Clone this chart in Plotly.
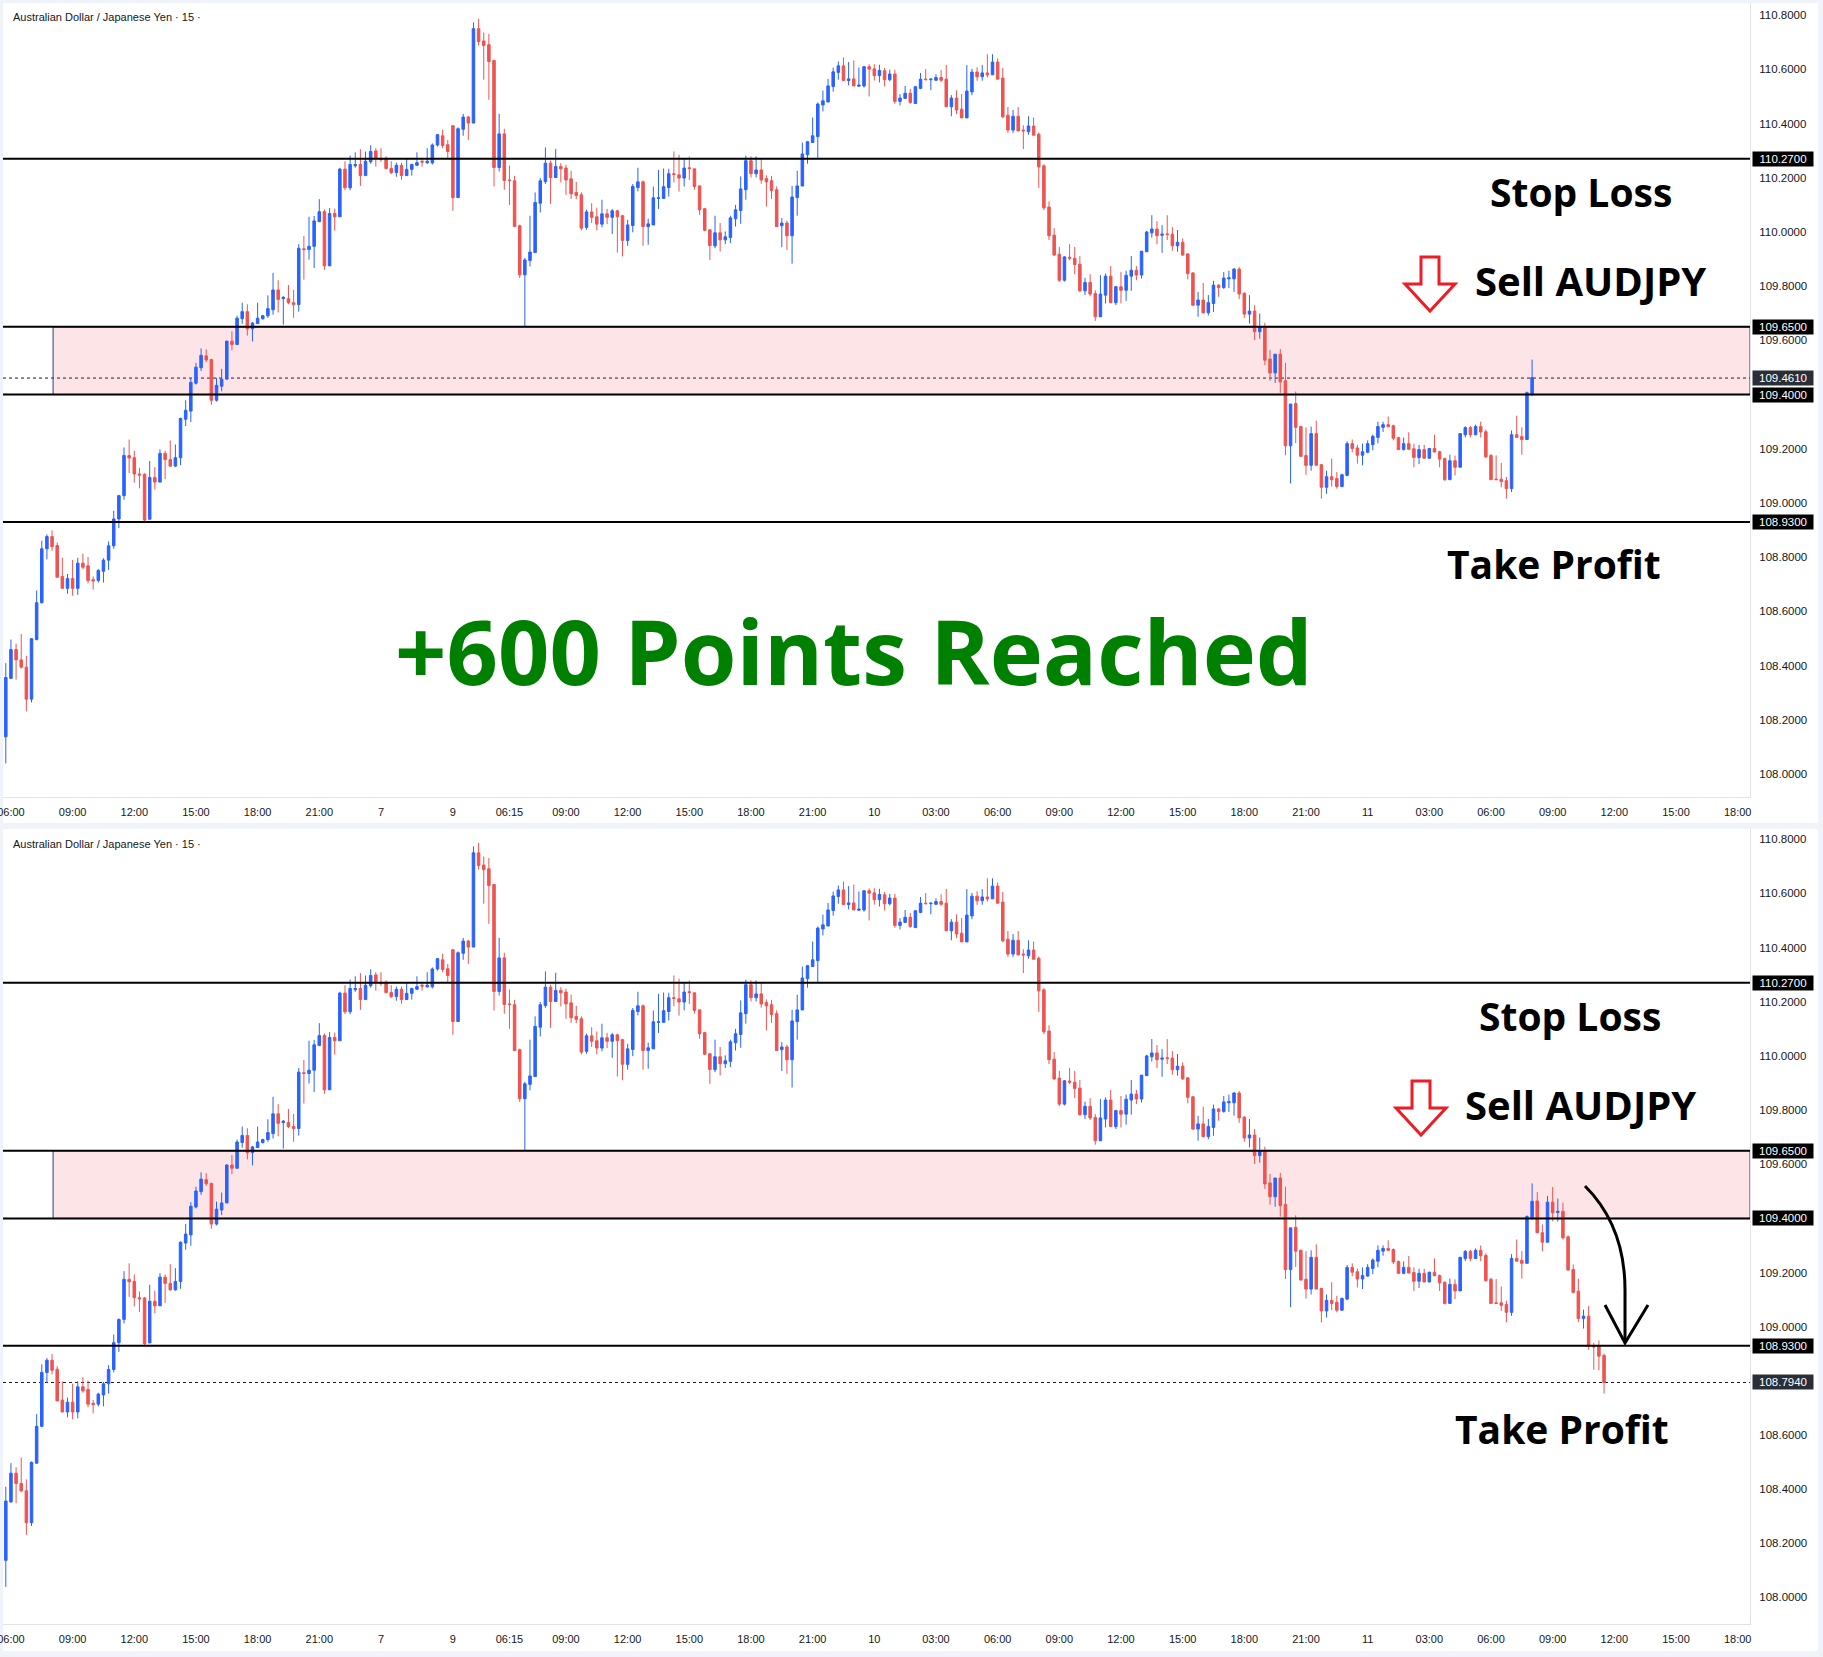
import plotly.graph_objects as go

W, H = 1823, 1657

# ---------------- data (AUDJPY, 15 min candles) ----------------
open_ = [
108.137,108.353,108.459,108.421,108.394,108.276,108.496,108.632,108.831,108.876,
108.843,108.729,108.685,108.721,108.685,108.778,108.768,108.717,108.714,108.748,
108.789,108.842,108.941,109.027,109.175,109.167,109.107,109.106,108.940,109.094,
109.077,109.183,109.160,109.136,109.167,109.309,109.339,109.442,109.499,109.543,
109.529,109.379,109.431,109.457,109.597,109.585,109.680,109.706,109.643,109.662,
109.680,109.691,109.713,109.786,109.754,109.754,109.739,109.732,109.938,109.935,
109.947,110.038,110.075,109.875,110.068,110.056,110.232,110.163,110.244,110.249,
110.208,110.259,110.299,110.272,110.272,110.234,110.219,110.246,110.208,110.231,
110.246,110.261,110.255,110.255,110.321,110.355,110.322,110.392,110.127,110.379,
110.424,110.402,110.750,110.705,110.691,110.633,110.238,110.362,110.192,110.189,
110.023,109.842,109.895,109.924,110.106,110.186,110.254,110.201,110.242,110.236,
110.196,110.146,110.137,110.017,110.074,110.056,110.029,110.067,110.054,110.078,
110.060,109.969,110.024,110.164,110.185,110.020,110.026,110.124,110.124,110.164,
110.215,110.211,110.199,110.237,110.233,110.170,110.086,110.008,109.949,109.997,
109.971,109.980,110.049,110.079,110.156,110.263,110.215,110.229,110.197,110.189,
110.156,110.023,110.033,109.986,110.127,110.170,110.285,110.330,110.352,110.469,
110.480,110.537,110.589,110.613,110.559,110.565,110.538,110.539,110.610,110.602,
110.577,110.595,110.562,110.583,110.482,110.493,110.512,110.474,110.530,110.564,
110.562,110.560,110.570,110.564,110.462,110.494,110.453,110.421,110.517,110.590,
110.573,110.587,110.580,110.627,110.568,110.431,110.376,110.427,110.376,110.370,
110.391,110.361,110.244,110.092,109.988,109.918,109.822,109.907,109.903,109.881,
109.783,109.814,109.773,109.687,109.767,109.837,109.739,109.798,109.785,109.837,
109.859,109.841,109.927,109.997,110.011,109.988,109.993,109.992,109.949,109.962,
109.919,109.849,109.730,109.749,109.702,109.736,109.804,109.795,109.827,109.827,
109.863,109.774,109.697,109.708,109.632,109.650,109.531,109.480,109.549,109.451,
109.211,109.367,109.282,109.175,109.139,109.256,109.141,109.058,109.097,109.090,
109.061,109.102,109.219,109.203,109.176,109.187,109.215,109.242,109.279,109.289,
109.285,109.241,109.197,109.219,109.200,109.168,109.197,109.165,109.201,109.189,
109.164,109.086,109.156,109.132,109.252,109.278,109.252,109.282,109.263,109.175,
109.088,109.088,109.082,109.053,109.252,109.245,109.234,109.402,109.464,109.347,
109.312,109.460,109.422,109.426,109.332,109.211,109.131,109.030,109.039,108.930,
108.928,108.894]
high = [
108.409,108.496,108.481,108.517,108.436,108.502,108.677,108.861,108.884,108.899,
108.854,108.798,108.738,108.790,108.798,108.813,108.801,108.729,108.756,108.796,
108.858,108.971,109.030,109.205,109.234,109.193,109.130,109.110,109.155,109.133,
109.198,109.193,109.231,109.216,109.315,109.379,109.460,109.517,109.570,109.567,
109.532,109.462,109.495,109.600,109.634,109.691,109.739,109.733,109.668,109.739,
109.694,109.766,109.849,109.822,109.763,109.804,109.786,109.955,109.985,110.056,
110.059,110.121,110.083,110.088,110.086,110.237,110.261,110.282,110.294,110.306,
110.297,110.320,110.309,110.309,110.279,110.261,110.256,110.256,110.272,110.252,
110.294,110.267,110.309,110.327,110.362,110.377,110.340,110.395,110.386,110.436,
110.429,110.774,110.787,110.736,110.731,110.635,110.436,110.381,110.245,110.207,
110.027,109.904,110.060,110.146,110.199,110.312,110.263,110.307,110.254,110.248,
110.226,110.185,110.146,110.082,110.106,110.090,110.119,110.085,110.085,110.082,
110.063,110.045,110.177,110.237,110.190,110.049,110.168,110.229,110.234,110.233,
110.297,110.285,110.270,110.279,110.234,110.172,110.089,110.011,110.060,110.033,
110.002,110.060,110.100,110.205,110.282,110.279,110.279,110.270,110.209,110.207,
110.168,110.051,110.041,110.170,110.226,110.330,110.336,110.422,110.478,110.522,
110.565,110.607,110.629,110.644,110.627,110.633,110.607,110.611,110.619,110.619,
110.617,110.605,110.599,110.599,110.509,110.539,110.528,110.538,110.587,110.601,
110.567,110.582,110.597,110.616,110.505,110.523,110.509,110.616,110.602,110.608,
110.616,110.656,110.656,110.641,110.605,110.461,110.450,110.461,110.394,110.427,
110.422,110.367,110.250,110.113,110.014,109.945,109.911,109.955,109.945,109.911,
109.831,109.844,109.785,109.841,109.847,109.874,109.801,109.852,109.857,109.911,
109.874,109.929,110.004,110.062,110.040,110.025,110.062,110.018,110.007,109.976,
109.922,109.852,109.779,109.812,109.767,109.820,109.807,109.852,109.857,109.867,
109.870,109.777,109.767,109.730,109.699,109.665,109.564,109.549,109.568,109.517,
109.365,109.411,109.285,109.279,109.282,109.304,109.144,109.119,109.164,109.114,
109.108,109.228,109.234,109.215,109.219,109.231,109.252,109.300,109.300,109.319,
109.289,109.244,109.241,109.261,109.219,109.214,109.214,109.203,109.252,109.193,
109.167,109.178,109.175,109.258,109.283,109.284,109.289,109.300,109.271,109.181,
109.176,109.148,109.096,109.268,109.322,109.279,109.411,109.529,109.497,109.378,
109.483,109.516,109.473,109.458,109.337,109.230,109.177,109.063,109.076,108.940,
108.949,108.901]
low = [
108.039,108.350,108.348,108.389,108.231,108.264,108.493,108.629,108.792,108.824,
108.726,108.685,108.665,108.658,108.661,108.756,108.703,108.680,108.706,108.706,
108.753,108.831,108.907,109.012,109.110,109.075,109.054,108.929,108.940,109.050,
109.077,109.088,109.133,109.133,109.140,109.284,109.299,109.437,109.487,109.520,
109.362,109.374,109.412,109.457,109.563,109.585,109.661,109.618,109.596,109.661,
109.676,109.683,109.695,109.703,109.658,109.733,109.683,109.706,109.824,109.898,
109.867,110.038,109.860,109.875,110.005,110.056,110.155,110.154,110.237,110.170,
110.208,110.252,110.241,110.259,110.231,110.214,110.204,110.193,110.208,110.208,
110.243,110.241,110.252,110.249,110.315,110.309,110.272,110.078,110.127,110.355,
110.340,110.402,110.688,110.562,110.488,110.168,110.223,110.156,110.100,110.020,
109.830,109.651,109.873,109.924,110.072,110.177,110.104,110.201,110.183,110.137,
110.122,110.121,110.006,110.008,110.033,110.006,110.017,110.029,109.993,109.924,
109.910,109.949,109.999,110.150,109.949,109.953,110.026,110.085,110.122,110.131,
110.183,110.149,110.168,110.192,110.156,110.063,110.003,109.897,109.940,109.928,
109.955,109.959,110.020,110.030,110.119,110.201,110.201,110.178,110.094,110.122,
110.018,109.944,109.934,109.883,110.060,110.168,110.252,110.330,110.272,110.445,
110.478,110.518,110.562,110.559,110.541,110.539,110.537,110.533,110.500,110.559,
110.552,110.537,110.556,110.473,110.467,110.493,110.473,110.472,110.527,110.562,
110.523,110.557,110.554,110.462,110.427,110.435,110.421,110.421,110.505,110.558,
110.558,110.570,110.580,110.564,110.420,110.366,110.366,110.372,110.306,110.359,
110.357,110.163,110.081,109.970,109.912,109.815,109.817,109.896,109.844,109.779,
109.767,109.763,109.672,109.687,109.736,109.739,109.730,109.736,109.746,109.783,
109.822,109.828,109.926,109.979,109.955,109.923,109.970,109.931,109.927,109.912,
109.825,109.727,109.687,109.699,109.692,109.705,109.761,109.790,109.793,109.779,
109.753,109.683,109.662,109.601,109.606,109.509,109.451,109.443,109.406,109.176,
109.072,109.221,109.172,109.104,109.119,109.139,109.016,109.034,109.061,109.053,
109.058,109.098,109.187,109.145,109.139,109.184,109.194,109.220,109.262,109.279,
109.231,109.197,109.194,109.198,109.132,109.143,109.165,109.165,109.187,109.132,
109.082,109.086,109.102,109.132,109.242,109.242,109.250,109.242,109.167,109.086,
109.086,109.058,109.016,109.040,109.242,109.178,109.234,109.394,109.347,109.279,
109.312,109.390,109.388,109.322,109.209,109.123,109.017,108.993,108.915,108.841,
108.839,108.753]
close = [
108.356,108.459,108.421,108.394,108.276,108.499,108.632,108.831,108.876,108.839,
108.726,108.685,108.721,108.685,108.778,108.763,108.714,108.712,108.751,108.789,
108.842,108.941,109.027,109.175,109.166,109.107,109.103,108.937,109.094,109.077,
109.183,109.160,109.136,109.167,109.312,109.342,109.445,109.501,109.545,109.528,
109.379,109.434,109.457,109.597,109.585,109.682,109.706,109.643,109.664,109.682,
109.691,109.717,109.786,109.751,109.759,109.739,109.732,109.940,109.935,109.947,
110.041,110.075,109.875,110.068,110.056,110.232,110.163,110.249,110.249,110.208,
110.261,110.297,110.272,110.267,110.234,110.219,110.246,110.208,110.231,110.249,
110.256,110.258,110.261,110.321,110.359,110.319,110.297,110.127,110.381,110.424,
110.402,110.750,110.703,110.688,110.629,110.238,110.362,110.190,110.190,110.020,
109.842,109.897,109.926,110.109,110.189,110.254,110.201,110.242,110.233,110.192,
110.141,110.135,110.014,110.074,110.054,110.029,110.067,110.054,110.078,110.057,
109.969,110.026,110.168,110.185,110.020,110.030,110.126,110.126,110.167,110.215,
110.212,110.199,110.236,110.234,110.168,110.082,110.006,109.950,109.997,109.971,
109.982,110.052,110.082,110.159,110.263,110.215,110.229,110.192,110.185,110.153,
110.020,110.033,109.986,110.129,110.170,110.288,110.333,110.355,110.472,110.484,
110.539,110.591,110.613,110.559,110.565,110.539,110.542,110.610,110.601,110.577,
110.596,110.562,110.583,110.482,110.494,110.512,110.478,110.536,110.564,110.562,
110.564,110.570,110.560,110.462,110.494,110.450,110.421,110.520,110.590,110.573,
110.587,110.580,110.627,110.564,110.425,110.376,110.427,110.373,110.373,110.391,
110.357,110.240,110.089,109.986,109.915,109.822,109.908,109.903,109.880,109.783,
109.814,109.771,109.687,109.771,109.837,109.739,109.798,109.785,109.840,109.859,
109.841,109.929,110.000,110.011,109.986,109.992,109.991,109.949,109.962,109.915,
109.847,109.730,109.749,109.702,109.739,109.804,109.795,109.830,109.831,109.863,
109.771,109.697,109.708,109.632,109.650,109.527,109.480,109.549,109.447,109.211,
109.365,109.279,109.172,109.139,109.256,109.139,109.058,109.097,109.086,109.061,
109.104,109.219,109.201,109.176,109.189,109.219,109.246,109.282,109.289,109.282,
109.239,109.197,109.219,109.198,109.168,109.197,109.165,109.201,109.188,109.162,
109.086,109.156,109.132,109.256,109.278,109.252,109.282,109.262,109.170,109.086,
109.086,109.079,109.053,109.252,109.242,109.234,109.407,109.463,109.347,109.312,
109.460,109.421,109.426,109.328,109.209,109.127,109.030,109.039,108.928,108.925,
108.891,108.794]

# candles shown in the upper pane (the lower pane shows the later session too)
n_top = 298

# time axis labels (candle index -> label)
tick_idx = [1, 13, 25, 37, 49, 61, 73, 87, 98, 109, 121, 133, 145, 157, 169,
            181, 193, 205, 217, 229, 241, 253, 265, 277, 289, 301, 313, 325, 337]
tick_txt = ["06:00", "09:00", "12:00", "15:00", "18:00", "21:00", "7", "9", "06:15",
            "09:00", "12:00", "15:00", "18:00", "21:00", "10", "03:00", "06:00",
            "09:00", "12:00", "15:00", "18:00", "21:00", "11", "03:00", "06:00",
            "09:00", "12:00", "15:00", "18:00"]

# price axis labels
price_ticks = [108.0, 108.2, 108.4, 108.6, 108.8, 109.0, 109.2, 109.4,
               109.6, 109.8, 110.0, 110.2, 110.4, 110.6, 110.8]

# trade levels
stop_loss = 110.27
zone_top = 109.65
zone_bottom = 109.40
take_profit = 108.93
last_top = 109.461
last_bottom = 108.794
zone_start = 9.2

BLUE = "#2962ff"
RED = "#ef5350"
TXT = "#131722"
GRID = "#e0e3eb"

idx = list(range(len(close)))

fig = go.Figure()
for (n, xa, ya) in [(n_top, "x", "y"), (len(close), "x2", "y2")]:
    fig.add_trace(go.Candlestick(
        x=idx[:n], open=open_[:n], high=high[:n], low=low[:n], close=close[:n],
        xaxis=xa, yaxis=ya,
        increasing=dict(line=dict(color=BLUE, width=1), fillcolor=BLUE),
        decreasing=dict(line=dict(color=RED, width=1), fillcolor=RED),
        whiskerwidth=0, showlegend=False, hoverinfo="skip"))


def px(x):
    return x / W


def py(y):
    return 1 - y / H


xr = [-0.547, 339.4]
xcommon = dict(range=xr, tickvals=tick_idx, ticktext=tick_txt, showgrid=False,
               zeroline=False, showline=True, linecolor=GRID, linewidth=1,
               ticks="outside", ticklen=5, tickcolor="rgba(0,0,0,0)",
               ticklabeloverflow="allow", automargin=False,
               tickfont=dict(family="Liberation Sans, Arial", size=11, color=TXT),
               rangeslider=dict(visible=False), fixedrange=True)
ycommon = dict(side="right", tickvals=price_ticks,
               ticktext=[f"{v:.4f}" for v in price_ticks], showgrid=False,
               zeroline=False, showline=True, linecolor=GRID, linewidth=1,
               ticks="outside", ticklen=6, tickcolor="rgba(0,0,0,0)",
               automargin=False,
               tickfont=dict(family="Liberation Sans, Arial", size=11.5, color=TXT),
               fixedrange=True)

fig.update_layout(
    width=W, height=H, margin=dict(l=0, r=0, t=0, b=0, autoexpand=False),
    paper_bgcolor="#f0f3fa", plot_bgcolor="white", showlegend=False,
    xaxis=dict(domain=[px(3), px(1750)], anchor="y", **xcommon),
    yaxis=dict(domain=[py(797), py(3)], anchor="x", range=[107.915, 110.845], **ycommon),
    xaxis2=dict(domain=[px(3), px(1750)], anchor="y2", **xcommon),
    yaxis2=dict(domain=[py(1624), py(829)], anchor="x2", range=[107.902, 110.838], **ycommon),
)

shapes = []
# white panes (chart + axes)
for (t, b) in [(3, 823), (829, 1651)]:
    shapes.append(dict(type="rect", xref="paper", yref="paper", x0=px(3), x1=px(1818),
                       y0=py(b), y1=py(t), fillcolor="white", line=dict(width=0),
                       layer="below"))
for (xa, ya, last) in [("x", "y", last_top), ("x2", "y2", last_bottom)]:
    shapes.append(dict(type="rect", xref=xa, yref=ya, x0=zone_start, x1=xr[1],
                       y0=zone_bottom, y1=zone_top,
                       fillcolor="rgba(242,54,69,0.135)",
                       line=dict(color="#1f3f8f", width=1), layer="below"))
    shapes.append(dict(type="line", xref=xa + " domain", yref=ya, x0=0, x1=1,
                       y0=last, y1=last, line=dict(color=TXT, width=1, dash="dot"),
                       layer="below"))
    for lvl in [stop_loss, zone_top, zone_bottom, take_profit]:
        shapes.append(dict(type="line", xref=xa + " domain", yref=ya, x0=0, x1=1,
                           y0=lvl, y1=lvl, line=dict(color="black", width=2),
                           layer="above"))


def P(x, y):
    return f"{px(x):.5f},{py(y):.5f}"


def down_arrow(cx, top):
    pts = [(cx - 9, top), (cx + 9, top), (cx + 9, top + 27), (cx + 25, top + 27),
           (cx, top + 54), (cx - 25, top + 27), (cx - 9, top + 27)]
    return "M " + " L ".join(P(x, y) for x, y in pts) + " Z"


for (cx, top) in [(1430, 257), (1421, 1081)]:
    shapes.append(dict(type="path", xref="paper", yref="paper", path=down_arrow(cx, top),
                       fillcolor="white", line=dict(color="#ee1c25", width=3),
                       layer="above"))

# curved hand-drawn arrow in the lower pane
shapes.append(dict(type="path", xref="paper", yref="paper",
                   path=f"M {P(1585,1186)} Q {P(1625,1226)} {P(1625,1290)} L {P(1625,1343)}",
                   line=dict(color="black", width=3), layer="above"))
shapes.append(dict(type="path", xref="paper", yref="paper",
                   path=f"M {P(1605,1305)} L {P(1625,1343)} L {P(1648,1305)}",
                   line=dict(color="black", width=3), layer="above"))

fig.update_layout(shapes=shapes)

ann = []
for ty in [17, 844]:
    ann.append(dict(xref="paper", yref="paper", x=px(11), y=py(ty), xanchor="left",
                    yanchor="middle", showarrow=False,
                    text="Australian Dollar / Japanese Yen · 15 ·",
                    font=dict(family="Liberation Sans, Arial", size=11, color=TXT)))


def price_box(ya, val, color):
    return dict(xref="paper", yref=ya, x=px(1752), y=val, xanchor="left",
                yanchor="middle", showarrow=False, text=f"{val:.4f}",
                bgcolor=color, borderpad=1, width=58, height=12,
                font=dict(family="Liberation Sans, Arial", size=11.5, color="white"))


for ya, last in [("y", last_top), ("y2", last_bottom)]:
    for lvl in [stop_loss, zone_top, zone_bottom, take_profit]:
        ann.append(price_box(ya, lvl, "black"))
    ann.append(price_box(ya, last, "#2a2e39"))

BIG = dict(family="Open Sans", size=39, color="black")
SELL = dict(family="Open Sans", size=40, color="black")


def label(text, cx, cy, font=BIG):
    return dict(xref="paper", yref="paper", x=px(cx), y=py(cy), xanchor="center",
                yanchor="middle", showarrow=False, text=f"<b>{text}</b>", font=font)


ann += [
    label("Stop Loss", 1581, 192),
    label("Sell AUDJPY", 1590, 281, SELL),
    label("Take Profit", 1554, 564),
    label("+600 Points Reached", 854, 650,
          font=dict(family="Open Sans", size=90, color="#008000")),
    label("Stop Loss", 1570, 1015),
    label("Sell AUDJPY", 1580, 1104, SELL),
    label("Take Profit", 1562, 1428),
]
fig.update_layout(annotations=ann)

fig.write_html("out.html")
